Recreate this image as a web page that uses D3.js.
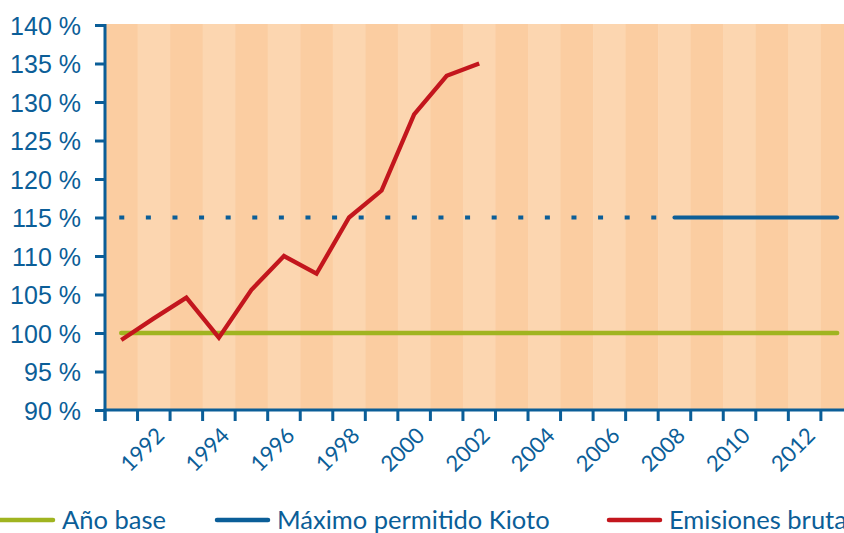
<!DOCTYPE html>
<html>
<head>
<meta charset="utf-8">
<script src="https://cdn.jsdelivr.net/npm/d3@7"></script>
<style>
  html, body { margin: 0; padding: 0; background: #fff; }
  svg { display: block; font-family: Lato, "DejaVu Sans", sans-serif; }
</style>
</head>
<body>
<svg width="844" height="533"></svg>
<script>
// years on the category axis (the last one runs off the right edge)
var years = [1991, 1992, 1993, 1994, 1995, 1996, 1997, 1998, 1999, 2000, 2001, 2002,
             2003, 2004, 2005, 2006, 2007, 2008, 2009, 2010, 2011, 2012, 2013];
var labelYears = [1992, 1994, 1996, 1998, 2000, 2002, 2004, 2006, 2008, 2010, 2012];

// emisiones brutas, % of base year
var emisYears = [1991, 1992, 1993, 1994, 1995, 1996, 1997, 1998, 1999, 2000, 2001, 2002];
var emisValues = [99.1, 101.9, 104.6, 99.4, 105.6, 110.0, 107.7, 115.0, 118.5, 128.4, 133.4, 135.0];

// año base
var baseYears = [1991, 2013];
var baseValues = [100, 100];

// máximo permitido Kioto: dotted before the commitment period, solid during it
var kiotoDotYears = [1991, 2008];
var kiotoDotValues = [115, 115];
var kiotoYears = [2008, 2013];
var kiotoValues = [115, 115];

var yTicks = [90, 95, 100, 105, 110, 115, 120, 125, 130, 135, 140];

var legendItems = ["Año base", "Máximo permitido Kioto", "Emisiones brutas"];
var legendColors = ["#a0b420", "#0b5e98", "#c3161d"];

var blue = "#0b5e98";

var svg = d3.select("svg"),
    margin = {top: 25, left: 105},
    step = 32.54,
    plotW = step * years.length,
    plotH = 385;

var g = svg.append("g").attr("transform", "translate(" + margin.left + "," + margin.top + ")");

var x = d3.scaleBand()
    .domain(years)
    .range([0, plotW])
    .padding(0);

var y = d3.scaleLinear()
    .domain([90, 140])
    .range([plotH, 0]);

// striped background, one band per year
g.selectAll("rect.band")
    .data(years)
  .enter().append("rect")
    .attr("class", "band")
    .attr("x", function(d) { return x(d); })
    .attr("y", y(140) - 1)
    .attr("width", x.bandwidth() + 0.5)
    .attr("height", plotH + 1)
    .attr("fill", function(d, i) { return i % 2 == 0 ? "#fbcda1" : "#fcd6b0"; });

function cx(d) { return x(d) + x.bandwidth() / 2; }

var line = d3.line()
    .x(function(d) { return cx(d[0]); })
    .y(function(d) { return y(d[1]); });

function pairs(a, b) { return a.map(function(v, i) { return [v, b[i]]; }); }

g.append("path")
    .datum(pairs(baseYears, baseValues))
    .attr("fill", "none")
    .attr("stroke", legendColors[0])
    .attr("stroke-width", 4.5)
    .attr("stroke-linecap", "round")
    .attr("d", line);

g.append("path")
    .datum(pairs(kiotoDotYears, kiotoDotValues))
    .attr("fill", "none")
    .attr("stroke", legendColors[1])
    .attr("stroke-width", 4)
    .attr("stroke-linecap", "square")
    .attr("stroke-dasharray", "1,25.6")
    .attr("d", line);

g.append("path")
    .datum(pairs(kiotoYears, kiotoValues))
    .attr("fill", "none")
    .attr("stroke", legendColors[1])
    .attr("stroke-width", 4)
    .attr("stroke-linecap", "round")
    .attr("d", line);

g.append("path")
    .datum(pairs(emisYears, emisValues))
    .attr("fill", "none")
    .attr("stroke", legendColors[2])
    .attr("stroke-width", 4.3)
    .attr("stroke-linejoin", "miter")
    .attr("d", line);

// y axis
var yAxis = g.append("g")
    .call(d3.axisLeft(y).tickValues(yTicks).tickSize(10).tickPadding(14).tickSizeOuter(0)
      .tickFormat(function(d) { return d + " %"; }));
yAxis.select(".domain")
    .attr("stroke", blue)
    .attr("stroke-width", 3)
    .attr("d", "M0," + (y(140) - 1) + "V" + (plotH + 11));
yAxis.selectAll(".tick line").attr("stroke", blue).attr("stroke-width", 3);
yAxis.selectAll(".tick text")
    .attr("fill", blue)
    .style("font-size", "25px")
    .attr("dy", "0.36em");

// x axis: ticks sit on band edges, labels in band middles
var xa = g.append("g").attr("transform", "translate(0," + plotH + ")");
xa.append("line")
    .attr("x1", -1.5).attr("x2", 844)
    .attr("stroke", blue)
    .attr("stroke-width", 3);
xa.selectAll("line.tk")
    .data(years)
  .enter().append("line")
    .attr("class", "tk")
    .attr("x1", function(d) { return x(d); })
    .attr("x2", function(d) { return x(d); })
    .attr("y1", 0).attr("y2", 11)
    .attr("stroke", blue)
    .attr("stroke-width", 3);
xa.selectAll("text")
    .data(labelYears)
  .enter().append("text")
    .attr("text-anchor", "end")
    .attr("fill", blue)
    .style("font-size", "22px")
    .attr("transform", function(d) {
      return "translate(" + (cx(d) + 12) + ",27) rotate(-45)";
    })
    .text(function(d) { return d; });

// legend (the last label runs off the right edge, as in the source)
var legendX = [0, 215, 607];
var lg = svg.append("g").attr("transform", "translate(0,520)");
legendItems.forEach(function(name, i) {
  var item = lg.append("g").attr("transform", "translate(" + legendX[i] + ",0)");
  item.append("line")
      .attr("x1", i == 0 ? -2 : 2).attr("x2", 53)
      .attr("stroke", legendColors[i])
      .attr("stroke-width", 4.5)
      .attr("stroke-linecap", "round");
  item.append("text")
      .attr("x", 62)
      .attr("y", 9)
      .attr("fill", blue)
      .style("font-size", "25.5px")
      .text(name);
});
</script>
</body>
</html>
